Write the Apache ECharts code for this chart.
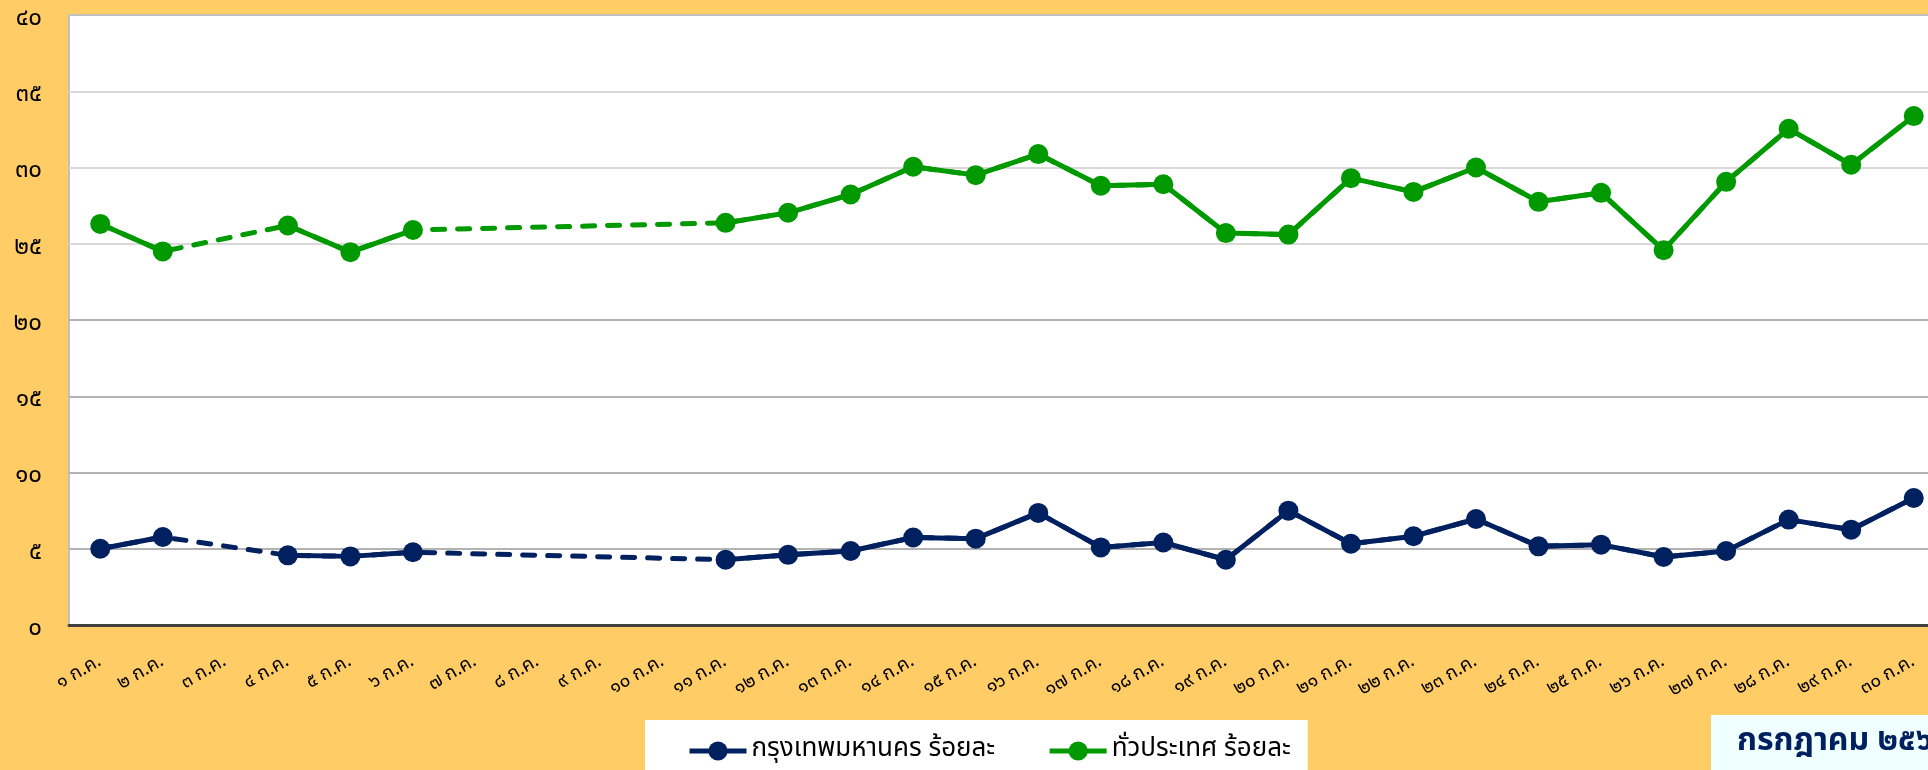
<!DOCTYPE html>
<html>
<head>
<meta charset="utf-8">
<script src="https://cdn.jsdelivr.net/npm/echarts@6/dist/echarts.min.js"></script>
<style>
  html, body { margin: 0; padding: 0; background: #ffcc66; }
  #chart { width: 1928px; height: 770px; }
</style>
</head>
<body>
<div id="chart"></div>
<script>
// วันที่ 1-30 ก.ค.
const categories = [
  '๑ ก.ค.', '๒ ก.ค.', '๓ ก.ค.', '๔ ก.ค.', '๕ ก.ค.', '๖ ก.ค.', '๗ ก.ค.', '๘ ก.ค.', '๙ ก.ค.', '๑๐ ก.ค.',
  '๑๑ ก.ค.', '๑๒ ก.ค.', '๑๓ ก.ค.', '๑๔ ก.ค.', '๑๕ ก.ค.', '๑๖ ก.ค.', '๑๗ ก.ค.', '๑๘ ก.ค.', '๑๙ ก.ค.', '๒๐ ก.ค.',
  '๒๑ ก.ค.', '๒๒ ก.ค.', '๒๓ ก.ค.', '๒๔ ก.ค.', '๒๕ ก.ค.', '๒๖ ก.ค.', '๒๗ ก.ค.', '๒๘ ก.ค.', '๒๙ ก.ค.', '๓๐ ก.ค.'
];

// กรุงเทพมหานคร ร้อยละ
const bangkok = [
  5.0, 5.77, null, 4.57, 4.5, 4.77, null, null, null, null,
  4.28, 4.6, 4.85, 5.74, 5.66, 7.35, 5.09, 5.41, 4.28, 7.5,
  5.33, 5.82, 6.95, 5.16, 5.27, 4.46, 4.85, 6.91, 6.25, 8.33
];

// ทั่วประเทศ ร้อยละ
const nationwide = [
  26.3, 24.5, null, 26.2, 24.45, 25.9, null, null, null, null,
  26.37, 27.03, 28.23, 30.05, 29.5, 30.88, 28.8, 28.9, 25.7, 25.6,
  29.3, 28.4, 30.0, 27.75, 28.34, 24.58, 29.06, 32.54, 30.18, 33.37
];

const yTickLabels = ['๐', '๕', '๑๐', '๑๕', '๒๐', '๒๕', '๓๐', '๓๕', '๔๐'];

const seriesNames = ['กรุงเทพมหานคร ร้อยละ', 'ทั่วประเทศ ร้อยละ'];
const titleText = 'กรกฎาคม ๒๕๖๔';

const NAVY = '#002060';
const GREEN = '#009900';
const FONT = "Tahoma, 'Noto Sans Thai', 'Noto Sans', 'DejaVu Sans', sans-serif";

const chart = echarts.init(document.getElementById('chart'));

// solid line with markers on top, dashed line underneath that bridges the missing days
const makeSeries = (name, data, color) => [
  {
    name: name,
    type: 'line',
    data: data,
    connectNulls: false,
    symbol: 'circle',
    symbolSize: 20,
    z: 3,
    itemStyle: { color: color },
    lineStyle: { color: color, width: 5 },
    emphasis: { disabled: true }
  },
  {
    name: name + ' (ต่อ)',
    type: 'line',
    data: data,
    connectNulls: true,
    showSymbol: false,
    z: 2,
    silent: true,
    lineStyle: { color: color, width: 5, type: [12, 13], cap: 'round' }
  }
];

const option = {
  backgroundColor: '#ffcc66',
  animation: false,
  textStyle: { fontFamily: FONT },
  title: {
    text: titleText,
    left: 1711,
    top: 715,
    backgroundColor: '#f0ffff',
    padding: [13, 200, 40, 26],
    textStyle: { color: NAVY, fontSize: 32, fontWeight: 'bold', fontFamily: FONT }
  },
  legend: {
    data: seriesNames,
    left: 645,
    top: 720,
    backgroundColor: '#ffffff',
    padding: [18, 17, 40, 42],
    itemWidth: 57,
    itemHeight: 24,
    itemGap: 52,
    lineStyle: { width: 5 },
    textStyle: { color: '#000', fontSize: 26, fontFamily: FONT }
  },
  grid: {
    left: 69,
    top: 15,
    width: 1876,
    bottom: 145,
    outerBoundsMode: 'none',
    containLabel: false,
    show: true,
    backgroundColor: '#ffffff',
    borderColor: '#c0c0c0',
    borderWidth: 2
  },
  xAxis: {
    type: 'category',
    data: categories,
    boundaryGap: true,
    axisLine: { lineStyle: { color: '#404040', width: 3 } },
    axisTick: { show: false },
    axisLabel: {
      rotate: 30,
      interval: 0,
      margin: 36,
      color: '#000',
      fontSize: 19,
      fontFamily: FONT
    }
  },
  yAxis: {
    type: 'value',
    min: 0,
    max: 40,
    interval: 5,
    axisLine: { show: false },
    axisTick: { show: false },
    axisLabel: {
      margin: 27,
      color: '#000',
      fontSize: 24,
      fontFamily: FONT,
      verticalAlign: 'top',
      lineHeight: 10,
      formatter: (v) => yTickLabels[Math.round(v / 5)]
    },
    splitLine: {
      lineStyle: {
        width: 2,
        color: ['#b3b3b3', '#b3b3b3', '#b3b3b3', '#b3b3b3', '#b3b3b3', '#d9d9d9', '#d9d9d9', '#d9d9d9', '#c0c0c0']
      }
    }
  },
  series: [
    ...makeSeries(seriesNames[0], bangkok, NAVY),
    ...makeSeries(seriesNames[1], nationwide, GREEN)
  ]
};

chart.setOption(option);
</script>
</body>
</html>
